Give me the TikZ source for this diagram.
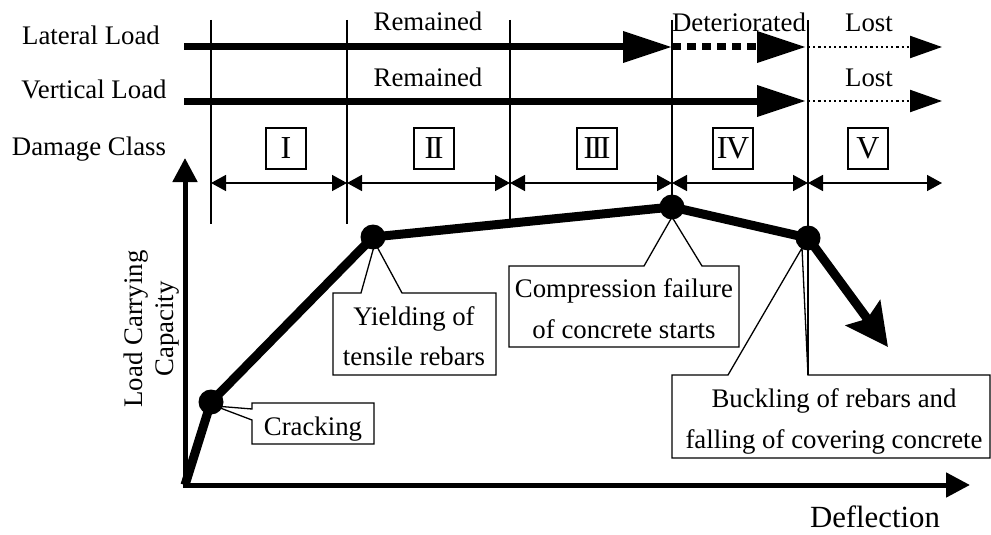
\documentclass[tikz,border=0pt]{standalone}
\usepackage{fontspec}
\setmainfont{Liberation Serif}
\usetikzlibrary{arrows.meta}
\begin{document}
\begin{tikzpicture}[x=1pt,y=-1pt,
  every node/.style={font=\fontsize{26.8}{32}\selectfont, inner sep=0pt},
  lbl/.style={anchor=base},
  thinline/.style={line width=1.3pt},
  callout/.style={line width=1.3pt, line join=miter},
  loadarrow/.style={line width=7pt, -{Triangle[length=49pt,width=30pt]}},
  lostarrow/.style={line width=2.2pt, dash pattern=on 2.2pt off 3pt, -{Triangle[length=32pt,width=22pt]}},
  classarrow/.style={line width=1.5pt, {Triangle[length=15pt,width=16pt]}-{Triangle[length=15pt,width=16pt]}},
  axis/.style={line width=5pt, -{Triangle[length=24pt,width=24pt]}},
  curve/.style={line width=9pt, line join=round},
  numbox/.style={draw, line width=1.3pt, minimum width=40pt, minimum height=41pt, font=\fontsize{32}{32}\selectfont},
  dot/.style={circle, fill=black, minimum size=25pt, inner sep=0pt}
]
\useasboundingbox (0,0) rectangle (991,535);

% thin vertical separators
\coordinate (t1) at (211,20); \coordinate (b1) at (211,224);
\coordinate (t2) at (347,20); \coordinate (b2) at (347,224);
\coordinate (t3) at (510,20); \coordinate (b3) at (510,223);
\coordinate (t4) at (672,20); \coordinate (b4) at (672,207);
\coordinate (t5) at (808,20); \coordinate (b5) at (808,375);
\foreach \i in {1,...,5} \draw[thinline] (t\i) -- (b\i);

% callouts
\draw[callout] (252,403) -- (252,409) -- (215,406) -- (252,420) -- (252,444) -- (374,444) -- (374,403) -- cycle;
\draw[callout] (333,293) -- (361,293) -- (375,243) -- (402,293) -- (496,293) -- (496,375) -- (333,375) -- cycle;
\draw[callout] (509,266) -- (644,266) -- (672,217) -- (702,266) -- (739,266) -- (739,347) -- (509,347) -- cycle;
\draw[callout] (672,375) -- (728,375) -- (802,248) -- (808,375) -- (990,375) -- (990,458) -- (672,458) -- cycle;

% axes
\coordinate (O) at (185,485);
\coordinate (ytip) at (185,158);
\coordinate (xtip) at (970,485);
\draw[axis] (185,487) -- (ytip);
\draw[axis] (183,485) -- (xtip);

% capacity curve
\coordinate (C) at (211,402);
\coordinate (Y) at (373,237);
\coordinate (P) at (672,207);
\coordinate (B) at (808,238);
\coordinate (E) at (888,347);
\draw[curve] (O) -- (C) -- (Y) -- (P) -- (B);
\draw[line width=9pt, -{Stealth[length=42pt,width=42pt,inset=7pt]}] (B) -- (E);
\node[dot] (dC) at (C) {};
\node[dot] (dY) at (Y) {};
\node[dot] (dP) at (P) {};
\node[dot] (dB) at (B) {};

% load arrows
\coordinate (la0) at (184,47); \coordinate (la1) at (672,47); \coordinate (la2) at (806,47);
\coordinate (la3) at (808,47); \coordinate (la4) at (942,47);
\draw[loadarrow] (la0) -- (la1);
\draw[loadarrow, dash pattern=on 9pt off 6pt] (la1) -- (la2);
\draw[lostarrow] (la3) -- (la4);
\coordinate (va0) at (184,101); \coordinate (va2) at (806,101);
\coordinate (va3) at (808,101); \coordinate (va4) at (942,101);
\draw[loadarrow] (va0) -- (va2);
\draw[lostarrow] (va3) -- (va4);

% damage class arrows
\coordinate (d1) at (211,183); \coordinate (d2) at (347,183); \coordinate (d3) at (510,183);
\coordinate (d4) at (672,183); \coordinate (d5) at (808,183); \coordinate (d6) at (942,183);
\draw[classarrow] (d1) -- (d2);
\draw[classarrow] (d2) -- (d3);
\draw[classarrow] (d3) -- (d4);
\draw[classarrow] (d4) -- (d5);
\draw[classarrow] (d5) -- (d6);

% damage class boxes
\node[numbox] (n1) at (286,148.5) {I};
\node[numbox] (n2) at (434,148.5) {I\kern-2.5pt I};
\node[numbox] (n3) at (597,148.5) {I\kern-2.5pt I\kern-2.5pt I};
\node[numbox] (n4) at (733,148.5) {I\kern-1.5pt V};
\node[numbox] (n5) at (868,148.5) {V};

% row labels
\node[lbl] (lat) at (91,45) {Lateral Load};
\node[lbl] (ver) at (94,99) {Vertical Load};
\node[lbl] (dmg) at (89,155) {Damage Class};
\node[lbl] (rem1) at (428,31) {Remained};
\node[lbl] (rem2) at (428,86) {Remained};
\node[lbl] (det) at (739,32) {Deteriorated};
\node[lbl] (lost1) at (869,32) {Lost};
\node[lbl] (lost2) at (869,87) {Lost};

% callout texts
\node[lbl] (crk) at (313,435) {Cracking};
\node[lbl] (yl1) at (414,325) {Yielding of};
\node[lbl] (yl2) at (414,365) {tensile rebars};
\node[lbl] (cf1) at (624,297) {Compression failure};
\node[lbl] (cf2) at (624,338) {of concrete starts};
\node[lbl] (bk1) at (834,407) {Buckling of rebars and};
\node[lbl] (bk2) at (834,448) {falling of covering concrete};

% axis labels
\node[lbl, font=\fontsize{30.8}{36}\selectfont] (defl) at (875,527) {Deflection};
\node[lbl, rotate=90] (lc1) at (142,329) {Load Carrying};
\node[lbl, rotate=90] (lc2) at (173,329) {Capacity};
\end{tikzpicture}
\end{document}
